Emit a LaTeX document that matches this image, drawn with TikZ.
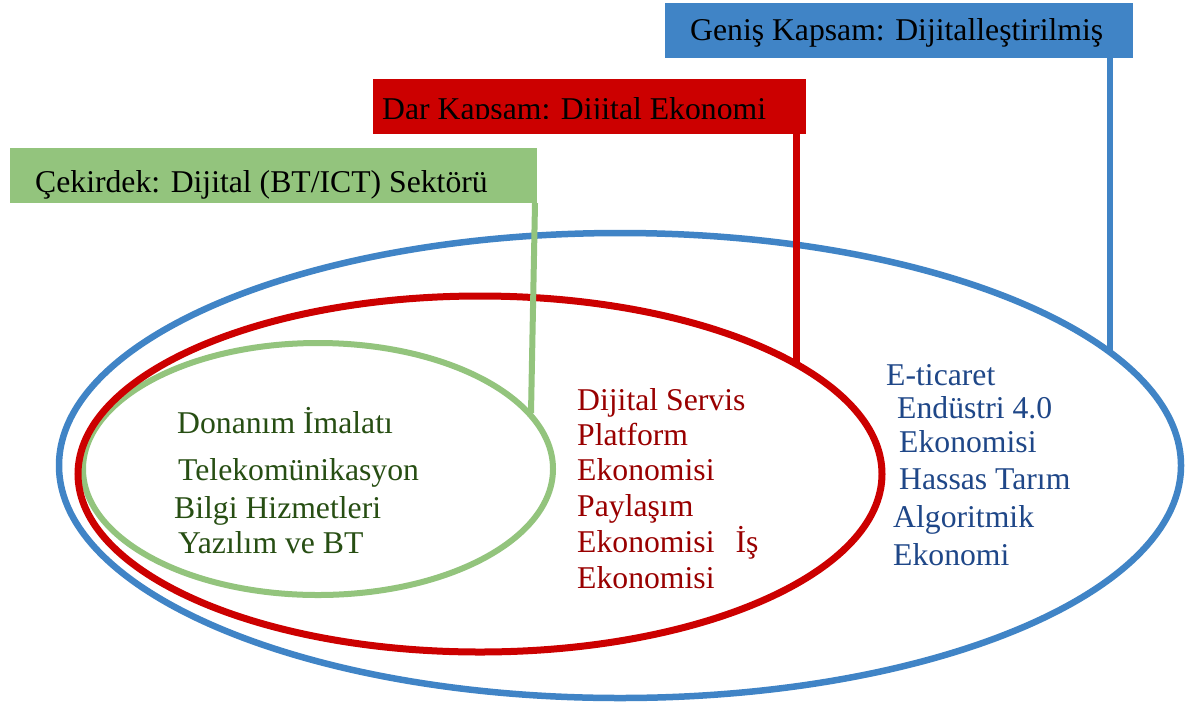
\documentclass[tikz,border=0pt]{standalone}
\usepackage{fontspec}
\setmainfont{Liberation Serif}
\usetikzlibrary{shapes.geometric}

\definecolor{scopeblue}{RGB}{64,132,198}
\definecolor{scopered}{RGB}{204,0,0}
\definecolor{scopegreen}{RGB}{147,196,125}
\definecolor{txtgreen}{RGB}{39,78,19}
\definecolor{txtred}{RGB}{153,0,0}
\definecolor{txtblue}{RGB}{31,71,136}

\begin{document}
\begin{tikzpicture}[x=1pt,y=-1pt,
  ring/.style={draw, ellipse, inner sep=0pt, outer sep=0pt},
  banner/.style={rectangle, inner sep=0pt, outer sep=0pt, anchor=north west},
  title/.style={anchor=base west, inner sep=0pt, font=\fontsize{31.7}{38}\selectfont, text=black},
  item/.style={anchor=base west, inner sep=0pt, font=\fontsize{31.7}{38}\selectfont},
  leader/.style={line width=6pt}]

\useasboundingbox[fill=white] (0,0) rectangle (1188,705);

% nested scopes: core sector, narrow scope, broad scope
\node[ring, draw=scopegreen, line width=6pt, minimum width=470pt, minimum height=252pt] (core) at (318,469) {};
\node[ring, draw=scopered, line width=7pt, minimum width=804pt, minimum height=356pt] (narrow) at (480,474) {};
\node[ring, draw=scopeblue, line width=6.5pt, minimum width=1122pt, minimum height=465pt] (wide) at (620,465.5) {};

% points where the leaders meet the rings
\coordinate (corejoin) at (531,413);
\coordinate (narrowjoin) at (796,364);
\coordinate (widejoin) at (1110,352);

% title banners
\node[banner, fill=scopeblue, minimum width=468pt, minimum height=55pt] (widebox) at (665,3) {};
\node[banner, fill=scopered, minimum width=433pt, minimum height=55pt] (narrowbox) at (373,79) {};
\node[banner, fill=scopegreen, minimum width=527pt, minimum height=55pt] (corebox) at (10,148) {};

% leaders from banners to rings
\draw[leader, scopegreen] ([xshift=-2pt]corebox.south east) -- (corejoin);
\draw[leader, scopered, line width=7pt] (narrowbox.south -| narrowjoin) -- (narrowjoin);
\draw[leader, scopeblue] (widebox.south -| widejoin) -- (widejoin);

% banner titles
\node[title] (widetitle) at (690,40) {Geniş Kapsam: Dijitalleştirilmiş};
\begin{scope}
  \clip (373,79) rectangle (806,118);
  \node[title] (narrowtitle) at (382,119.3) {Dar Kapsam: Dijital Ekonomi};
\end{scope}
\node[title] (coretitle) at (35,192) {Çekirdek: Dijital (BT/ICT) Sektörü};

% core sector items
\node[item, text=txtgreen] (g1) at (177,433) {Donanım İmalatı};
\node[item, text=txtgreen] (g2) at (178,480) {Telekomünikasyon};
\node[item, text=txtgreen] (g3) at (174,518) {Bilgi Hizmetleri};
\node[item, text=txtgreen] (g4) at (178,553) {Yazılım ve BT};

% digital economy items
\node[item, text=txtred] (r1) at (577,410) {Dijital Servis};
\node[item, text=txtred] (r2) at (577,445) {Platform};
\node[item, text=txtred] (r3) at (577,480) {Ekonomisi};
\node[item, text=txtred] (r4) at (577,516) {Paylaşım};
\node[item, text=txtred] (r5) at (577,552) {Ekonomisi\hspace{21pt}İş};
\node[item, text=txtred] (r6) at (577,588) {Ekonomisi};

% digitalised economy items
\node[item, text=txtblue] (b1) at (886,385) {E-ticaret};
\node[item, text=txtblue] (b2) at (897,418) {Endüstri 4.0};
\node[item, text=txtblue] (b3) at (899,452) {Ekonomisi};
\node[item, text=txtblue] (b4) at (899,489) {Hassas Tarım};
\node[item, text=txtblue] (b5) at (893,527) {Algoritmik};
\node[item, text=txtblue] (b6) at (893,565) {Ekonomi};

\end{tikzpicture}
\end{document}
